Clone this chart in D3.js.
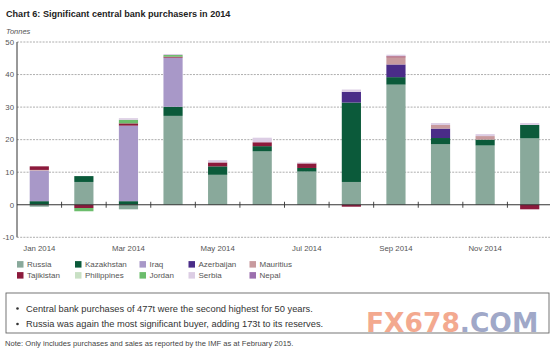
<!DOCTYPE html>
<html><head><meta charset="utf-8">
<script src="https://cdn.jsdelivr.net/npm/d3@7/dist/d3.min.js"></script>
<style>body{margin:0;background:#fff}svg{display:block;font-family:"Liberation Sans",Arial,sans-serif}</style>
</head><body><svg id="c" width="550" height="356"></svg>
<script>
const months = ["Jan","Feb","Mar","Apr","May","Jun","Jul","Aug","Sep","Oct","Nov","Dec"];
const monthLabels = ["Jan 2014","","Mar 2014","","May 2014","","Jul 2014","","Sep 2014","","Nov 2014",""];
const countries = ["Russia","Kazakhstan","Iraq","Azerbaijan","Mauritius","Tajikistan","Philippines","Jordan","Serbia","Nepal"];
const russia      = [-0.6, 7.0, -1.4, 27.3, 9.2, 16.4, 10.2, 7.0, 36.9, 18.6, 18.2, 20.4];
const kazakhstan  = [1.1, 1.8, 1.1, 2.8, 2.6, 1.6, 1.1, 24.4, 2.3, 1.9, 1.8, 4.1];
const iraq        = [9.4, 0, 23.2, 15.1, 0, 0, 0, 0, 0, 0, 0, 0];
const azerbaijan  = [0, 0, 0, 0, 0, 0, 0, 3.3, 3.9, 2.9, 0, 0];
const mauritius   = [0.2, 0, 0, 0, 0, 0, 0, 0, 2.2, 1.1, 1.1, 0];
const tajikistan  = [1.1, -1.0, 0.7, 0.3, 1.2, 1.2, 1.4, -0.6, 0.3, 0, 0, -1.4];
const philippines = [0, 0, 0, 0, 0, 0, 0, 0, 0, 0, 0, 0];
const jordan      = [0, -1.0, 1.1, 0.5, 0, 0, 0, 0, 0, 0, 0, 0];
const serbia      = [0, 0, 0.5, 0.3, 0.7, 1.4, 0.3, 0.7, 0.5, 0.6, 0.6, 0.6];
const nepal       = [0, 0, 0, 0, 0, 0, 0, 0, 0, 0, 0, 0];
const yTicks = [-10, 0, 10, 20, 30, 40, 50];
const colors = ["#89a99b","#0b5a3a","#a898c8","#4a2c88","#c89a9e","#8c1a3c","#c8e0c4","#6cbd6c","#dccde4","#9c6fae"];

const seriesVals = [russia,kazakhstan,iraq,azerbaijan,mauritius,tajikistan,philippines,jordan,serbia,nepal];
const table = months.map((m,i)=>{const o={month:m}; countries.forEach((c,j)=>o[c]=seriesVals[j][i]); return o;});

const svg = d3.select("#c");
const x = d3.scaleBand().domain(months).range([17,552]).paddingInner(0.57).paddingOuter(0.285);
const y = d3.scaleLinear().domain([-10,50]).range([237.3,42]);
const color = d3.scaleOrdinal().domain(countries).range(colors);

// title
svg.append("text").attr("x",6).attr("y",17).attr("font-size",9.1).attr("font-weight","bold").attr("fill","#222").text("Chart 6: Significant central bank purchasers in 2014");
svg.append("text").attr("x",6).attr("y",34).attr("font-size",7.5).attr("font-style","italic").attr("fill","#555").text("Tonnes");

// grid
const g = svg.append("g");
g.selectAll("line.grid").data(yTicks.filter(d=>d!==0)).join("line")
  .attr("x1",17).attr("x2",550).attr("y1",d=>y(d)).attr("y2",d=>y(d))
  .attr("stroke","#999").attr("stroke-width",0.8).attr("stroke-dasharray","2,1.2");
g.selectAll("text.yt").data(yTicks).join("text")
  .attr("x",14).attr("y",d=>y(d)+2.8).attr("text-anchor","end").attr("font-size",7.8).attr("fill","#555").text(d=>d);

// bars
const stack = d3.stack().keys(countries).offset(d3.stackOffsetDiverging);
const layers = stack(table);
g.selectAll("g.layer").data(layers).join("g").attr("fill",d=>color(d.key))
  .selectAll("rect").data(d=>d).join("rect")
  .attr("x",d=>x(d.data.month)).attr("width",x.bandwidth())
  .attr("y",d=>y(Math.max(d[0],d[1]))).attr("height",d=>Math.abs(y(d[0])-y(d[1])));

// axes
g.append("line").attr("x1",17).attr("x2",550).attr("y1",y(0)).attr("y2",y(0)).attr("stroke","#333").attr("stroke-width",1);
g.append("line").attr("x1",17).attr("x2",17).attr("y1",y(50)).attr("y2",y(-10)).attr("stroke","#333").attr("stroke-width",1);
const step = x.step();
g.selectAll("line.tk").data(months.slice(1)).join("line")
  .attr("x1",d=>x(d)-step*x.paddingInner()/2).attr("x2",d=>x(d)-step*x.paddingInner()/2)
  .attr("y1",y(0)-3).attr("y2",y(0)+3).attr("stroke","#333").attr("stroke-width",0.9);
g.selectAll("text.xl").data(months.filter((m,i)=>monthLabels[i])).join("text")
  .attr("x",d=>x(d)+x.bandwidth()/2).attr("y",251).attr("text-anchor","middle").attr("font-size",7.8).attr("fill","#555")
  .text(d=>monthLabels[months.indexOf(d)]);

// legend
const legX = [17,75,139.5,188.5,249.5];
const leg = svg.append("g");
countries.forEach((c,i)=>{
  const col = i%5, row = Math.floor(i/5);
  const lx = legX[col], ly = 264.4 + row*11;
  leg.append("rect").attr("x",lx).attr("y",ly-3.3).attr("width",6.5).attr("height",6.5).attr("fill",color(c));
  leg.append("text").attr("x",lx+10).attr("y",ly+2.8).attr("font-size",8).attr("fill","#555").text(c);
});

// box
svg.append("rect").attr("x",6).attr("y",293).attr("width",543).attr("height",40).attr("fill","none").attr("stroke","#666").attr("stroke-width",0.9);
const bullets = ["Central bank purchases of 477t were the second highest for 50 years.","Russia was again the most significant buyer, adding 173t to its reserves."];
bullets.forEach((b,i)=>{
  const by = 311.5 + i*15.5;
  svg.append("circle").attr("cx",17.5).attr("cy",by-3).attr("r",1.3).attr("fill","#333");
  svg.append("text").attr("x",26).attr("y",by).attr("font-size",9.3).attr("fill","#333").text(b);
});
svg.append("text").attr("x",5).attr("y",346).attr("font-size",7.6).attr("fill","#444").text("Note: Only includes purchases and sales as reported by the IMF as at February 2015.");

// watermark
const wm = svg.append("text").attr("x",366).attr("y",332).attr("font-family","DejaVu Sans").attr("font-weight","bold").attr("font-size",26.5);
wm.append("tspan").attr("fill","#f3a98f").text("FX678");
wm.append("tspan").attr("fill","#a0a8c8").text(".COM");
</script></body></html>
